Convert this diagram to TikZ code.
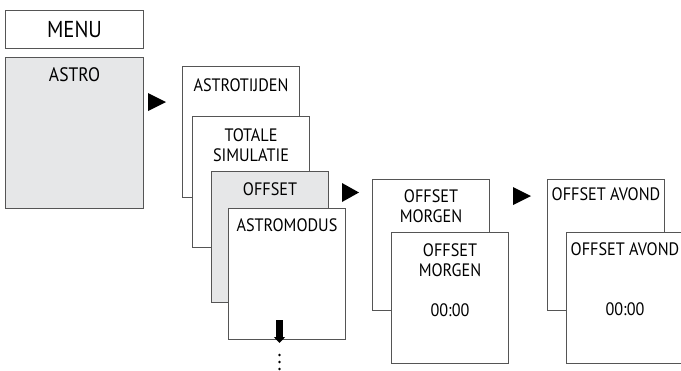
\documentclass[tikz,border=0pt]{standalone}
\usepackage{fontspec}
\setmainfont{PT Sans}[FakeStretch=0.9]
\usetikzlibrary{positioning,arrows.meta}

\definecolor{framegray}{RGB}{85,85,85}
\definecolor{panelgray}{RGB}{230,231,232}
\newcommand{\menufont}{\fontsize{18}{20.3}\selectfont}

\tikzset{
  screen/.style={draw=framegray, line width=1pt, fill=white, anchor=north west,
    minimum width=117pt, minimum height=131pt, inner sep=0pt},
  selected/.style={screen, fill=panelgray},
  title/.style={inner sep=0pt, align=center, font=\menufont},
  nextarrow/.style={fill=black}
}

\begin{document}
\begin{tikzpicture}[x=1pt, y=-1pt]
\useasboundingbox (0,0) rectangle (681,370);

% main menu
\node[draw=framegray, line width=1pt, anchor=north west, minimum width=138pt, minimum height=38pt,
  inner sep=0pt, font=\fontsize{23}{25}\selectfont] (menu) at (5,10) {MENU};
\node[selected, minimum width=138pt, minimum height=151pt] (astro) at (5,57) {};
\node[title, font=\fontsize{19.5}{22}\selectfont, below=10pt of astro.north] (t-astro) {ASTRO};

% submenu stack
\node[screen] (astrotijden) at (182,66) {};
\node[title, below=12pt of astrotijden.north] (t-astrotijden) {ASTROTIJDEN};
\node[screen] (simulatie) at (192,116) {};
\node[title, below=12pt of simulatie.north] (t-simulatie) {TOTALE\\SIMULATIE};
\node[selected] (offset) at (211,171) {};
\node[title, below=11pt of offset.north] (t-offset) {OFFSET};
\node[screen] (astromodus) at (228,208) {};
\node[title, below=10pt of astromodus.north] (t-astromodus) {ASTROMODUS};

% offset morgen
\node[screen] (morgen) at (372,179) {};
\node[title, below=10pt of morgen.north] (t-morgen) {OFFSET\\MORGEN};
\node[screen] (morgenval) at (391,232) {};
\node[title, below=11pt of morgenval.north] (t-morgenval) {OFFSET\\MORGEN\\[20.3pt]00:00};

% offset avond
\node[screen] (avond) at (547,179) {};
\node[title, below=8pt of avond.north] (t-avond) {OFFSET AVOND};
\node[screen] (avondval) at (566,232) {};
\node[title, below=10pt of avondval.north] (t-avondval) {OFFSET AVOND\\[40.6pt]00:00};

% arrows
\fill[nextarrow] (148,93) -- (166,102) -- (148,111) -- cycle;
\fill[nextarrow] (342,183) -- (359,192.5) -- (342,202) -- cycle;
\fill[nextarrow] (513,187) -- (531,196) -- (513,205) -- cycle;

\coordinate (down-start) at (279.5,320);
\coordinate (down-end) at (279.5,343);
\draw[line width=7pt, -{Triangle[length=6pt,width=11pt]}] (down-start) -- (down-end);
\foreach \y in {355,362,369}
  \fill (279.5,\y) circle (1.3pt);
\end{tikzpicture}
\end{document}
